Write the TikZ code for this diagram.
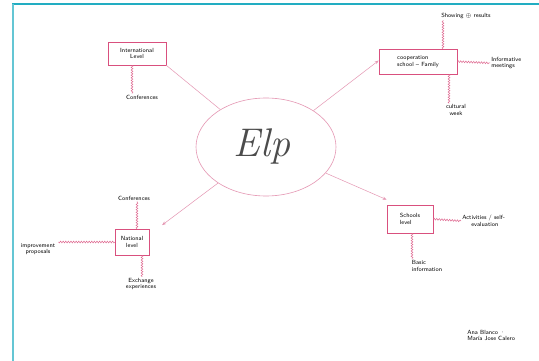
\documentclass[tikz,border=0pt]{standalone}
\usetikzlibrary{shapes.geometric,decorations.pathmorphing,arrows.meta}
\definecolor{penpink}{HTML}{D9507E}
\definecolor{linepink}{HTML}{E597B3}
\definecolor{framecyan}{HTML}{22ADC2}
\tikzset{every picture/.style={line width=0.6pt}}
\tikzset{level box/.style={draw=penpink, rectangle, inner sep=0pt, font=\sffamily\fontsize{6}{6.5}\selectfont, align=center}}
\tikzset{note/.style={font=\sffamily\fontsize{6}{6.5}\selectfont, align=center, inner sep=1pt}}
\tikzset{wiggle/.style={penpink!85, line width=0.5pt, decorate, decoration={snake, amplitude=0.9pt, segment length=2.6pt}}}
\tikzset{link/.style={linepink, line width=0.5pt}}
\newcommand{\pinkhead}{-{Stealth[length=4pt,width=3pt]}}

\begin{document}
\begin{tikzpicture}[x=1pt,y=-1pt]
        \useasboundingbox (0,0) rectangle (539,361);
        \fill[white] (0,0) rectangle (539,361);
        % frame
        \draw[framecyan, line width=1.6pt] (12,4) -- (539,4);
        \draw[framecyan!70, line width=2pt] (13,4) -- (13,361);

        % centre
        \node[ellipse, draw=linepink, minimum width=140pt, minimum height=98pt] (elp) at (266,147) {};
        \node[black!70, font=\fontsize{40}{40}\selectfont\itshape] (elptext) at (262,147) {Elp};

        % boxes
        \node[level box, minimum width=58pt, minimum height=23pt] (intl) at (137,53.5) {International\\Level};
        \node[level box, minimum width=78pt, minimum height=25pt, align=left] (coop) at (418,61.5) {cooperation\\school -- Family};
        \node[level box, minimum width=34pt, minimum height=26pt] (natl) at (132,242) {National\\level};
        \node[level box, minimum width=46pt, minimum height=28pt, align=left] (school) at (410,219) {Schools\\level};

        \draw[link] (elp) -- (intl.south east);
        \draw[link, \pinkhead] (elp) -- ([yshift=1pt]coop.west);
        \draw[link, \pinkhead, shorten >=1pt] (elp) -- ([xshift=12pt,yshift=3pt]natl.north east);
        \draw[link, \pinkhead] (elp) -- ([yshift=5pt]school.north west);

        % international
        \node[note] (intlconf) at (142,97) {Conferences};
        \draw[wiggle] ([xshift=-5pt]intl.south) -- ([xshift=-5pt]intl.south |- intlconf.north);

        % cooperation
        \node[note] (results) at (466,16) {Showing $\oplus$ results};
        \node[note, align=left, anchor=west] (meetings) at (490,63) {Informative\\meetings};
        \node[note] (week) at (456,110) {cultural\\week};
        \draw[wiggle] ([xshift=25pt]coop.north) -- ([xshift=25pt]coop.north |- results.south);
        \draw[wiggle] (coop.east) -- (meetings.west);
        \draw[wiggle] ([xshift=31pt]coop.south) -- ([xshift=31pt]coop.south |- week.north);

        % national
        \node[note] (natlconf) at (134,198) {Conferences};
        \node[note] (proposals) at (38,249) {improvement\\proposals};
        \node[note] (exchange) at (141,284) {Exchange\\experiences};
        \draw[wiggle] ([xshift=5pt]natl.north) -- ([xshift=5pt]natl.north |- natlconf.south);
        \draw[wiggle] (natl.west) -- ([xshift=2pt]natl.west -| proposals.east);
        \draw[wiggle] ([xshift=10pt]natl.south) -- ([xshift=10pt]natl.south |- exchange.north);

        % schools
        \node[note, align=left, anchor=west] (activities) at (461,221) {Activities / self-\\\hspace{1.5em}evaluation};
        \node[note, align=left] (basic) at (427,266) {Basic\\information};
        \draw[wiggle] (school.east) -- (activities.west);
        \draw[wiggle] ([xshift=2pt]school.south) -- ([xshift=2pt]school.south |- basic.north);

        % names
        \node[note, align=left, anchor=north west] (names) at (466,329) {Ana Blanco \textperiodcentered\\Mar\'ia Jose Calero};
\end{tikzpicture}
\end{document}
